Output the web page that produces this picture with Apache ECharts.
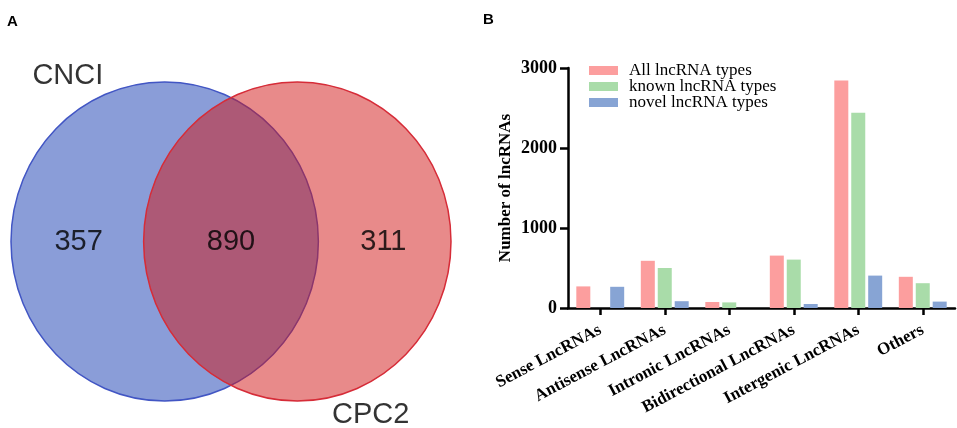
<!DOCTYPE html>
<html>
<head>
<meta charset="utf-8">
<script src="https://cdn.jsdelivr.net/npm/echarts@6/dist/echarts.min.js"></script>
<style>
  html, body { margin: 0; padding: 0; background: #fff; }
  #main { width: 957px; height: 428px; }
</style>
</head>
<body>
<div id="main"></div>
<script>
// panel A: venn counts
var vennSets = ['CNCI', 'CPC2'];
var vennCounts = [357, 890, 311]; // CNCI only, both, CPC2 only

// panel B: lncRNA types
var categories = ['Sense LncRNAs', 'Antisense LncRNAs', 'Intronic LncRNAs',
  'Bidirectional LncRNAs', 'Intergenic LncRNAs', 'Others'];
var seriesNames = ['All lncRNA types', 'known lncRNA types', 'novel lncRNA types'];
var allTypes = [270, 590, 75, 655, 2845, 390];
var knownTypes = [0, 500, 70, 605, 2440, 310];
var novelTypes = [265, 85, 0, 50, 405, 80];

var myChart = echarts.init(document.getElementById('main'));

// venn layout: unit radius circles, centre offset D
var D = 0.863;
var circles = [
  { value: [0, 0], fill: 'rgba(21,59,177,0.5)', stroke: 'rgb(66,86,196)' },
  { value: [D, 0], fill: 'rgba(209,21,21,0.5)', stroke: 'rgb(214,44,56)' }
];
var vennLabels = [
  { value: [-0.56, 0], text: String(vennCounts[0]) },
  { value: [D / 2, 0], text: String(vennCounts[1]) },
  { value: [D + 0.56, 0], text: String(vennCounts[2]) },
  { value: [-0.63, 1.04], text: vennSets[0] },
  { value: [1.34, -1.09], text: vennSets[1] }
];

var serif = 'Liberation Serif';
var sans = 'Liberation Sans';

var option = {
  animation: false,
  title: [
    { text: 'A', left: 2, top: 9, textStyle: { fontFamily: sans, fontSize: 15, fontWeight: 'bold', color: '#000' } },
    { text: 'B', left: 478, top: 7, textStyle: { fontFamily: sans, fontSize: 15, fontWeight: 'bold', color: '#000' } }
  ],
  legend: {
    data: seriesNames,
    orient: 'vertical',
    left: 584,
    top: 57,
    icon: 'rect',
    itemWidth: 29,
    itemHeight: 9,
    itemGap: -1,
    textStyle: { fontFamily: serif, fontSize: 17, lineHeight: 15, color: '#000', padding: [0, 0, 0, 6] }
  },
  grid: [
    { left: 568, top: 68, right: 2, height: 240, containLabel: false },
    { left: 11, top: 82, width: 440, height: 319 }
  ],
  xAxis: [
    {
      type: 'category',
      gridIndex: 0,
      data: categories,
      axisLine: { lineStyle: { color: '#000', width: 2.5 } },
      axisTick: { show: true, alignWithLabel: true, length: 7, lineStyle: { color: '#000', width: 2.5 } },
      axisLabel: {
        interval: 0, rotate: 28, margin: 21,
        fontFamily: serif, fontSize: 17, fontWeight: 'bold', color: '#000'
      },
      splitLine: { show: false }
    },
    { type: 'value', gridIndex: 1, min: -1, max: 1 + D, show: false }
  ],
  yAxis: [
    {
      type: 'value',
      gridIndex: 0,
      min: 0, max: 3000, interval: 1000,
      name: 'Number of lncRNAs',
      nameLocation: 'middle',
      nameGap: 54,
      nameTextStyle: { fontFamily: serif, fontSize: 17, fontWeight: 'bold', color: '#000' },
      axisLine: { show: true, lineStyle: { color: '#000', width: 2.5 } },
      axisTick: { show: true, length: 8, lineStyle: { color: '#000', width: 2.5 } },
      axisLabel: {
        margin: 11, fontFamily: serif, fontSize: 18, fontWeight: 'bold', color: '#000',
        formatter: function (v) { return String(v); }
      },
      splitLine: { show: false }
    },
    { type: 'value', gridIndex: 1, min: -1, max: 1, show: false }
  ],
  series: [
    {
      name: seriesNames[0], type: 'bar', xAxisIndex: 0, yAxisIndex: 0,
      data: allTypes, barWidth: 14, barGap: '21%',
      itemStyle: { color: '#fc9e9e' }
    },
    {
      name: seriesNames[1], type: 'bar', xAxisIndex: 0, yAxisIndex: 0,
      data: knownTypes, barWidth: 14, barGap: '21%',
      itemStyle: { color: '#a9dca9' }
    },
    {
      name: seriesNames[2], type: 'bar', xAxisIndex: 0, yAxisIndex: 0,
      data: novelTypes, barWidth: 14, barGap: '21%',
      itemStyle: { color: '#87a4d4' }
    },
    {
      type: 'custom',
      xAxisIndex: 1, yAxisIndex: 1,
      clip: false,
      data: circles,
      renderItem: function (params, api) {
        var c = api.coord([api.value(0), api.value(1)]);
        var s = api.size([1, 1]);
        var item = circles[params.dataIndex];
        return {
          type: 'ellipse',
          shape: { cx: c[0], cy: c[1], rx: s[0], ry: s[1] },
          style: { fill: item.fill, stroke: item.stroke, lineWidth: 1.5 }
        };
      }
    },
    {
      type: 'scatter',
      xAxisIndex: 1, yAxisIndex: 1,
      symbolSize: 0,
      clip: false,
      silent: true,
      data: vennLabels,
      label: {
        show: true,
        position: [0, 0],
        align: 'center',
        verticalAlign: 'middle',
        formatter: function (p) { return vennLabels[p.dataIndex].text; },
        fontFamily: sans, fontSize: 29, color: '#000',
        textBorderWidth: 0
      },
      z: 10
    }
  ]
};

myChart.setOption(option);
</script>
</body>
</html>
